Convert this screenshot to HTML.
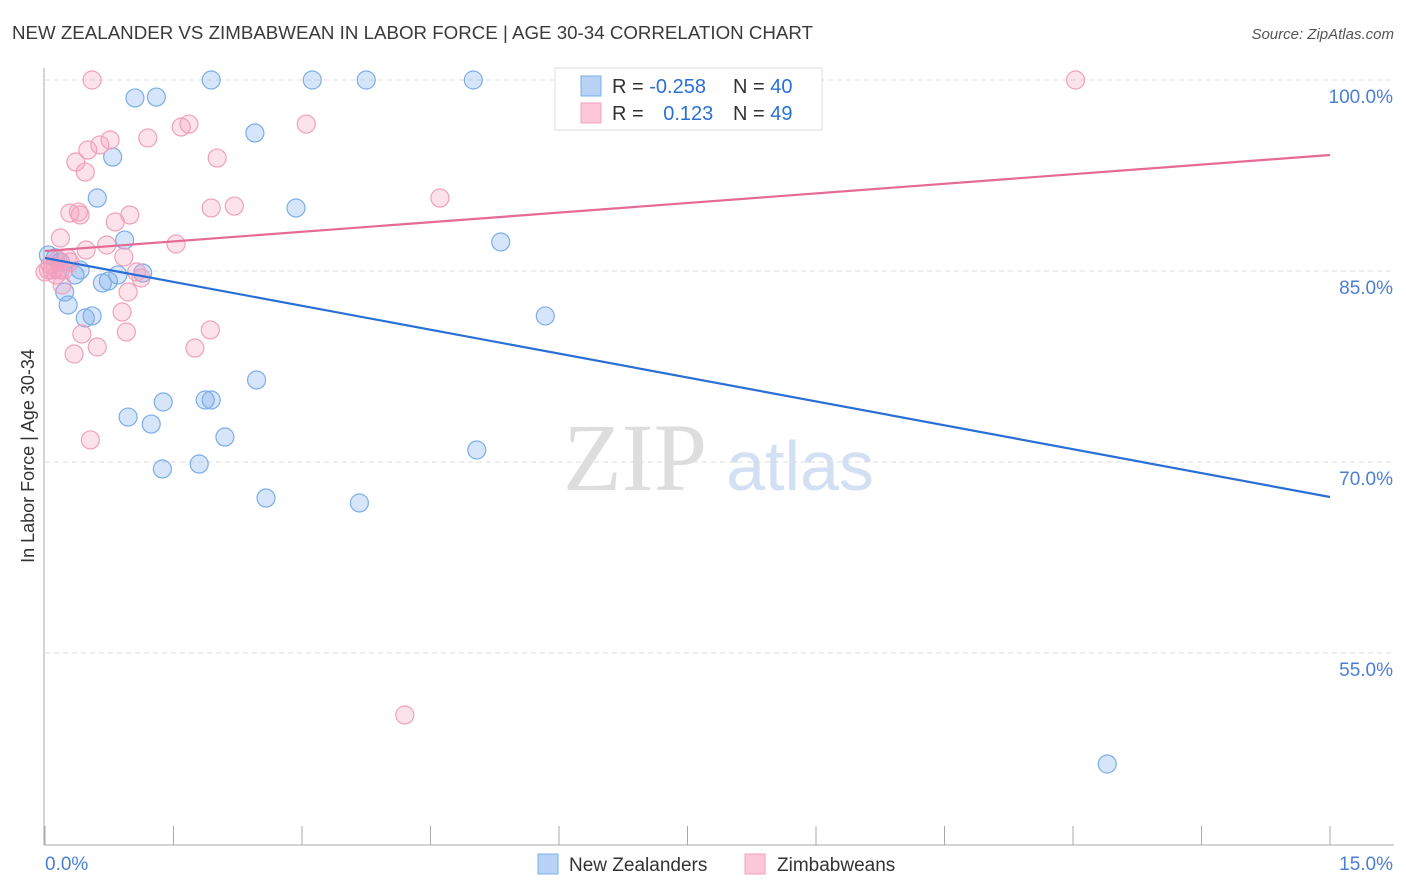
<!DOCTYPE html>
<html><head><meta charset="utf-8"><style>
body{margin:0;background:#fff;font-family:"Liberation Sans",sans-serif;}
svg{display:block}
</style></head><body>
<svg width="1406" height="892" viewBox="0 0 1406 892" xmlns="http://www.w3.org/2000/svg" id="chart">
<text x="12" y="39" font-size="18" fill="#3a3a3a" textLength="801" lengthAdjust="spacingAndGlyphs">NEW ZEALANDER VS ZIMBABWEAN IN LABOR FORCE | AGE 30-34 CORRELATION CHART</text>
<text x="1394" y="39" font-size="15" fill="#555" text-anchor="end" font-style="italic">Source: ZipAtlas.com</text>
<text transform="translate(34,456) rotate(-90)" font-size="18" fill="#333" text-anchor="middle">In Labor Force | Age 30-34</text>
<g>
<text x="635" y="490" font-size="96" fill="#ddd" text-anchor="middle" font-family="Liberation Serif, serif">ZIP</text>
<text x="800" y="490" font-size="70" fill="#d3e0f3" text-anchor="middle">atlas</text>
</g>
<g id="grid"></g><g id="axes"></g><g id="pts"></g><g id="lines"></g>
<g>
<rect x="555" y="68" width="267" height="62" fill="#fff" stroke="#ddd"/>
<rect x="581" y="76" width="20" height="20" fill="#b8d3f5" stroke="#7aaee8"/>
<rect x="581" y="103" width="20" height="20" fill="#fcc7d8" stroke="#f0a0bc"/>
<text x="612" y="93" font-size="20" fill="#333">R = <tspan fill="#2a6fd6">-0.258</tspan></text>
<text x="733" y="93" font-size="20" fill="#333">N = <tspan fill="#2a6fd6">40</tspan></text>
<text x="612" y="120" font-size="20" fill="#333">R = <tspan fill="#2a6fd6" dx="14">0.123</tspan></text>
<text x="733" y="120" font-size="20" fill="#333">N = <tspan fill="#2a6fd6">49</tspan></text>
</g>
<g>
<rect x="538" y="854" width="20" height="20" fill="#b8d3f5" stroke="#7aaee8"/>
<text x="569" y="871" font-size="19" fill="#333">New Zealanders</text>
<rect x="745" y="854" width="20" height="20" fill="#fcc7d8" stroke="#f0a0bc"/>
<text x="777" y="871" font-size="19" fill="#333">Zimbabweans</text>
</g>
</svg>
<script>
const yTicks=[100,85,70,55];
const yTickLabels=["100.0%","85.0%","70.0%","55.0%"];
const xTicks=[0,1.5,3,4.5,6,7.5,9,10.5,12,13.5,15];
const blueX=[.04,.12,.18,.23,.27,.35,.41,.47,.55,.61,.67,.74,.79,.85,.93,.97,1.05,1.14,1.24,1.30,1.38,1.37,1.80,1.87,1.94,1.94,2.10,2.45,2.47,2.58,2.93,3.12,3.67,3.75,5.00,5.04,5.32,5.84,7.68,12.40];
const blueY=[86.26,86.03,85.71,83.35,82.33,84.69,85.08,81.31,81.47,90.73,84.06,84.21,93.95,84.69,87.43,73.53,98.59,84.84,72.98,98.66,74.71,69.45,69.84,74.87,74.87,100,71.96,95.84,76.44,67.17,89.95,100,66.78,100,100,70.94,87.28,81.47,100,46.28];
const pinkX=[.04,.06,.12,.15,.18,.20,.29,.34,.36,.39,.41,.43,.47,.48,.50,.55,.53,.61,.64,.72,.76,.82,.90,.92,.95,.97,.99,1.07,1.12,1.20,1.53,1.59,1.68,1.75,1.93,1.94,2.01,2.21,3.05,4.20,4.61,12.03,.08,0,.18,.26,.29,.13,.22];
const pinkY=[85.08,85.47,85.24,85.86,87.59,83.90,89.55,78.48,93.56,89.63,89.40,80.05,92.77,86.65,94.50,100,71.73,79.03,94.90,87.04,95.29,88.85,81.78,86.10,80.21,83.35,89.40,84.92,84.45,95.45,87.12,96.31,96.54,78.95,80.37,89.95,93.87,90.10,96.54,50.13,90.73,100,85.08,84.92,85.08,86.03,85.71,84.69,85.08];
const blueTrend=[86.02,67.25];
const pinkTrend=[86.57,94.11];
const NS="http://www.w3.org/2000/svg";
const X=v=>45+v/15*1285;
const Y=v=>80+(100-v)*12.733;
function mk(tag,attrs,parent){const e=document.createElementNS(NS,tag);for(const k in attrs)e.setAttribute(k,attrs[k]);document.getElementById(parent).appendChild(e);return e;}
yTicks.forEach((t,i)=>{
 const g=mk('line',{x1:45,x2:1394,y1:Y(t),y2:Y(t),stroke:'#ddd','stroke-dasharray':'5,4'},'grid');
 
 
 const l=mk('text',{x:1393,y:Y(t)+23,'font-size':19,fill:'#4a7fd4','text-anchor':'end'},'axes');
 l.textContent=yTickLabels[i];
 
 
});
const ya=mk('line',{x1:44,x2:44,y1:68,y2:845,stroke:'#aaa'},'axes');


const xa=mk('line',{x1:44,x2:1394,y1:845,y2:845,stroke:'#aaa'},'axes');


xTicks.forEach(t=>{
 const k=mk('line',{x1:X(t),x2:X(t),y1:826,y2:845,stroke:'#aaa'},'axes');
 
 
});
const x0=mk('text',{x:45,y:870,'font-size':19,fill:'#4a7fd4'},'axes');x0.textContent='0.0%';


const x1=mk('text',{x:1393,y:870,'font-size':19,fill:'#4a7fd4','text-anchor':'end'},'axes');x1.textContent='15.0%';


blueX.forEach((v,i)=>{
 const c=mk('circle',{cx:X(v),cy:Y(blueY[i]),r:9,fill:'rgba(120,170,235,0.3)',stroke:'#7aaee8','stroke-width':1.2},'pts');
 
 
});
pinkX.forEach((v,i)=>{
 const c=mk('circle',{cx:X(v),cy:Y(pinkY[i]),r:9,fill:'rgba(245,160,190,0.3)',stroke:'#f0a0bc','stroke-width':1.2},'pts');
 
 
});
const bl=mk('line',{x1:X(0),y1:Y(blueTrend[0]),x2:X(15),y2:Y(blueTrend[1]),stroke:'#2a6fd6','stroke-width':2.2},'lines');


const pl=mk('line',{x1:X(0),y1:Y(pinkTrend[0]),x2:X(15),y2:Y(pinkTrend[1]),stroke:'#e56a95','stroke-width':2.2},'lines');


</script>
</body></html>
